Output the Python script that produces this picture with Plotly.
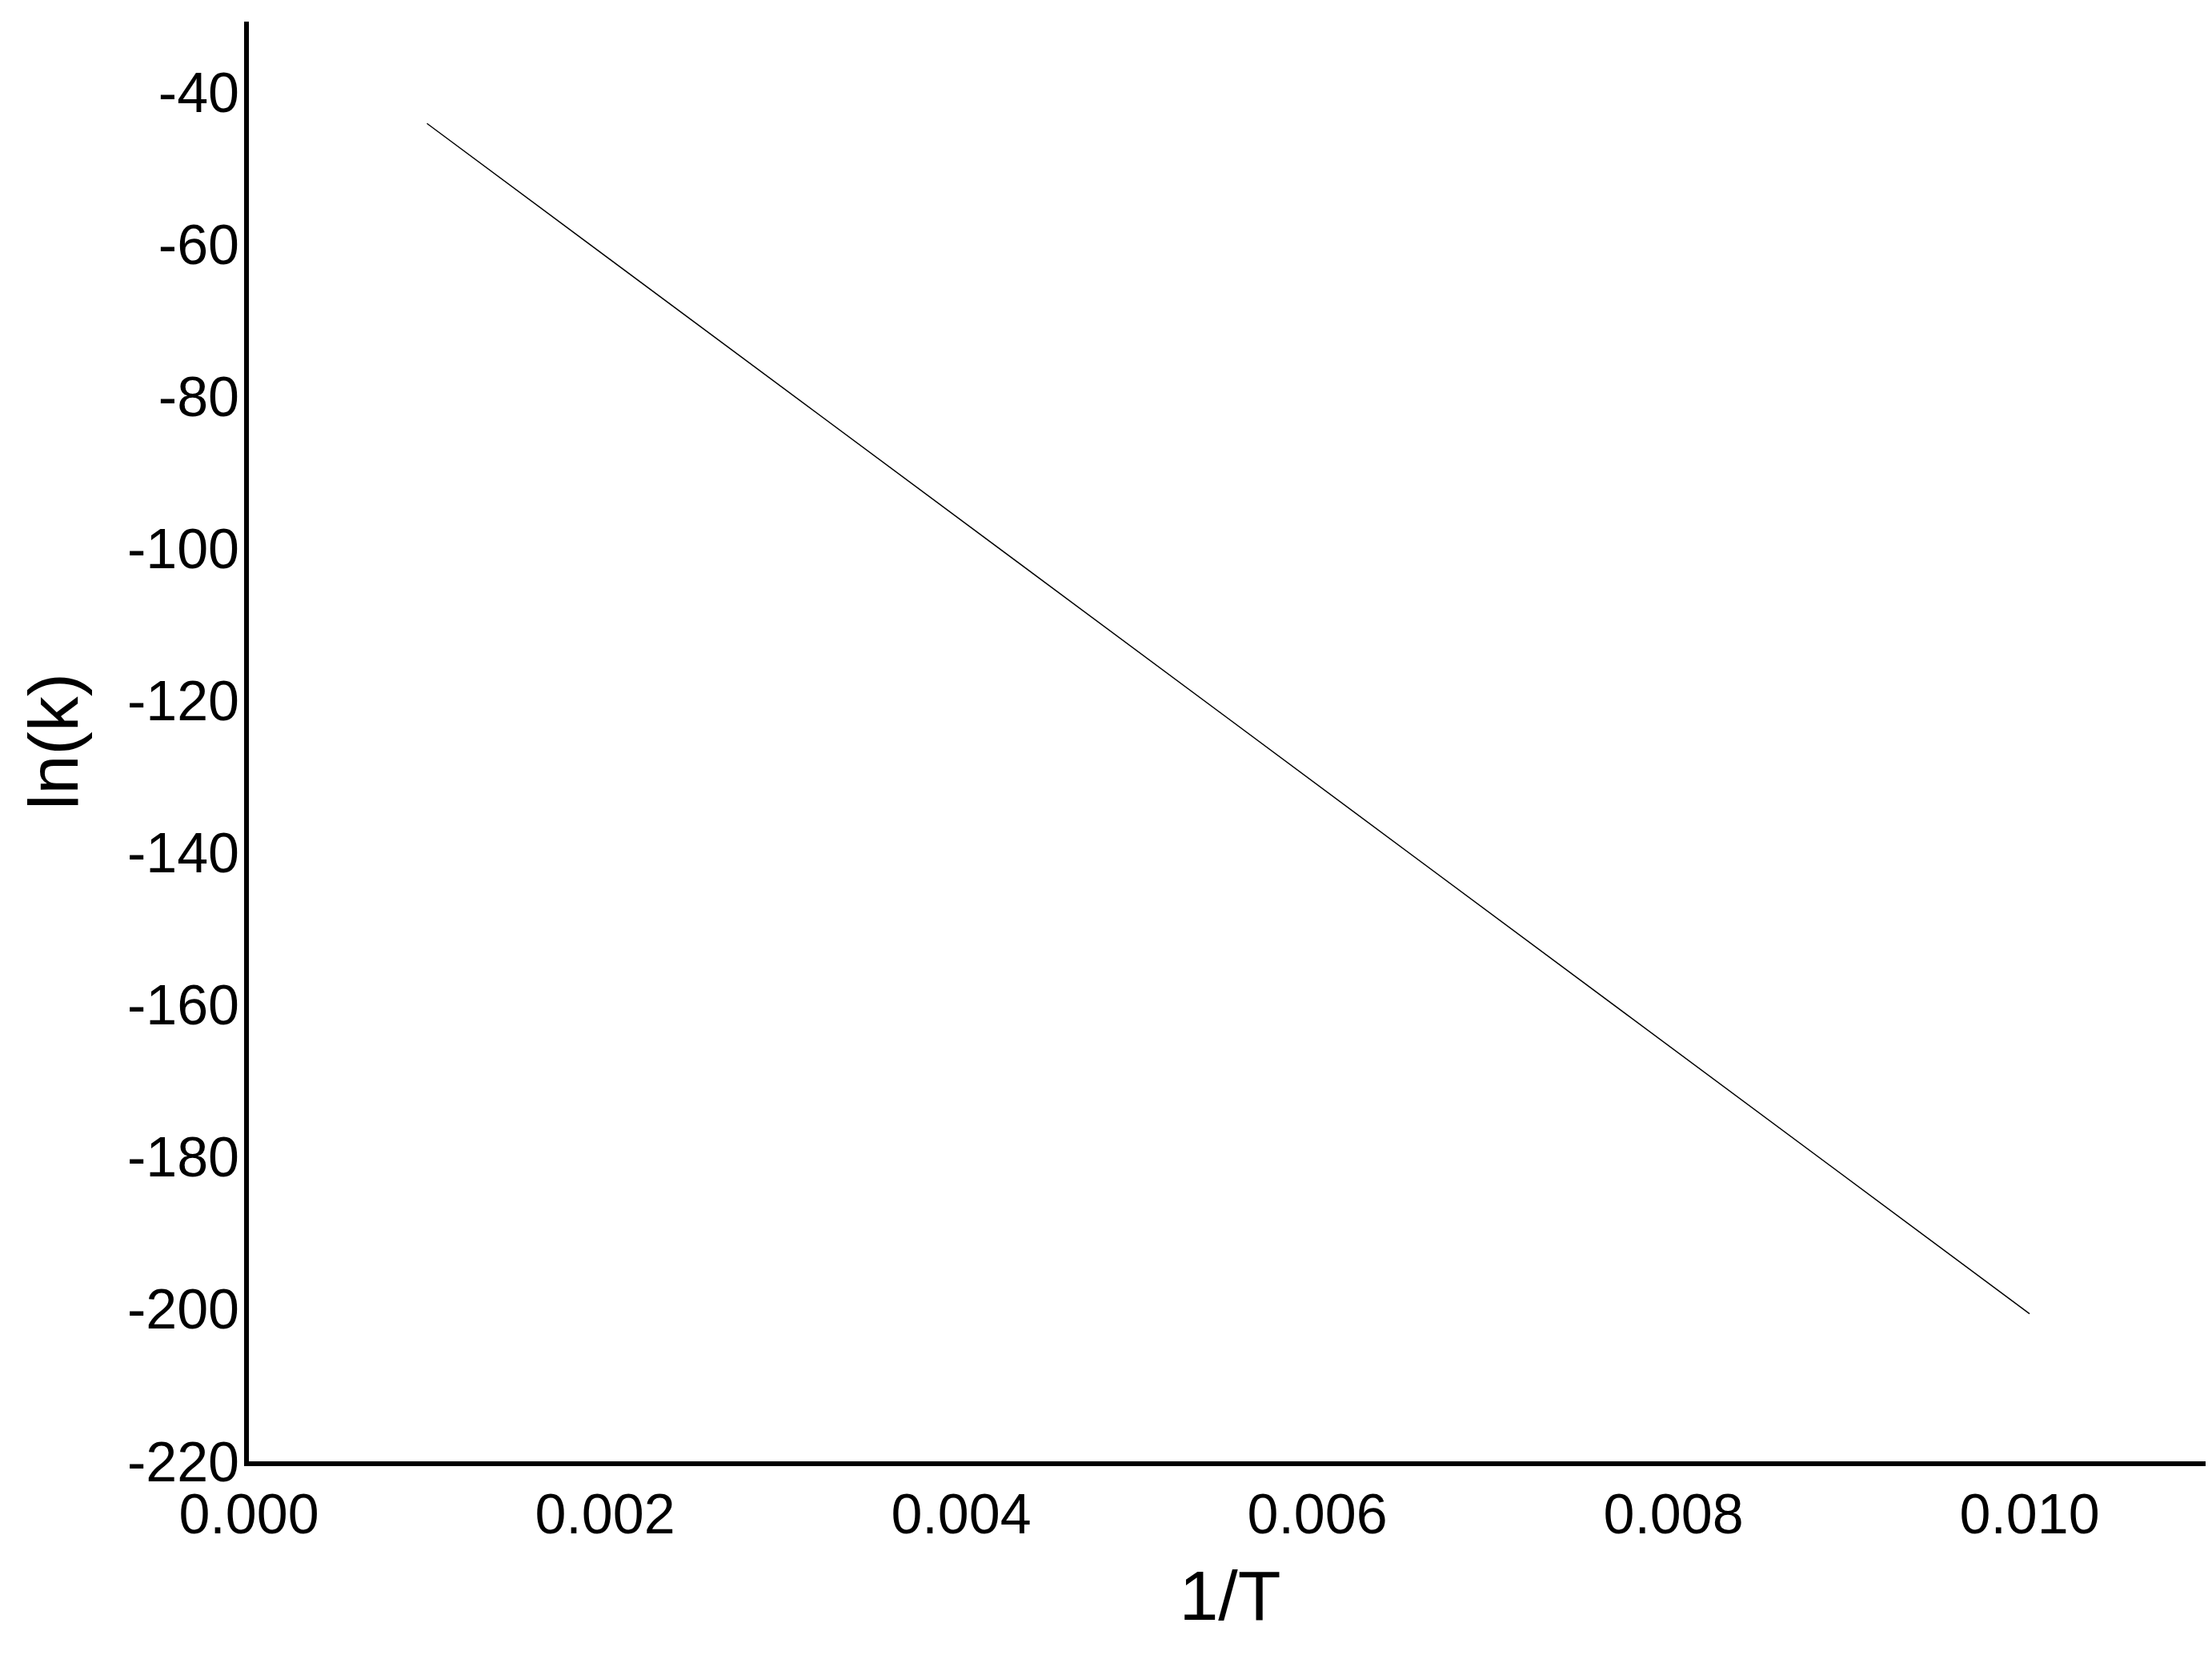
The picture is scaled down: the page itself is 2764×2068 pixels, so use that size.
import plotly.graph_objects as go

# Arrhenius plot data
temperature = [100, 200, 300, 400, 500, 600, 700, 800, 900, 1000]
inv_t = [0.01, 0.005, 0.003333, 0.0025, 0.002, 0.001667, 0.001429, 0.00125, 0.001111, 0.001]
ln_k = [-200.6, -113.65, -84.67, -70.18, -61.48, -55.68, -51.54, -48.44, -46.02, -44.09]

x_ticks = [0.000, 0.002, 0.004, 0.006, 0.008, 0.010]
x_labels = ["0.000", "0.002", "0.004", "0.006", "0.008", "0.010"]
y_ticks = [-220, -200, -180, -160, -140, -120, -100, -80, -60, -40]
y_labels = ["-220", "-200", "-180", "-160", "-140", "-120", "-100", "-80", "-60", "-40"]

FONT = "Liberation Sans, Arial, sans-serif"

fig = go.Figure()
fig.add_trace(go.Scatter(
    x=inv_t,
    y=ln_k,
    mode="lines",
    line=dict(color="black", width=1.5),
    showlegend=False,
))

axis_style = dict(
    showline=True,
    linecolor="black",
    linewidth=6,
    showgrid=False,
    zeroline=False,
    ticks="",
    tickfont=dict(family=FONT, size=70, color="black"),
)

fig.update_xaxes(
    range=[0, 0.01102],
    tickvals=x_ticks,
    ticktext=x_labels,
    ticklabelstandoff=0,
    title=dict(text="1/T", font=dict(family=FONT, size=88, color="black"), standoff=34),
    **axis_style,
)
fig.update_yaxes(
    range=[-220, -30.7],
    tickvals=y_ticks,
    ticktext=y_labels,
    ticklabelstandoff=-8,
    title=dict(text="ln(k)", font=dict(family=FONT, size=88, color="black"), standoff=34),
    **axis_style,
)

fig.update_layout(
    width=2764,
    height=2068,
    margin=dict(l=303, r=9, t=19, b=250),
    plot_bgcolor="white",
    paper_bgcolor="white",
)

fig.write_html("out.html")
